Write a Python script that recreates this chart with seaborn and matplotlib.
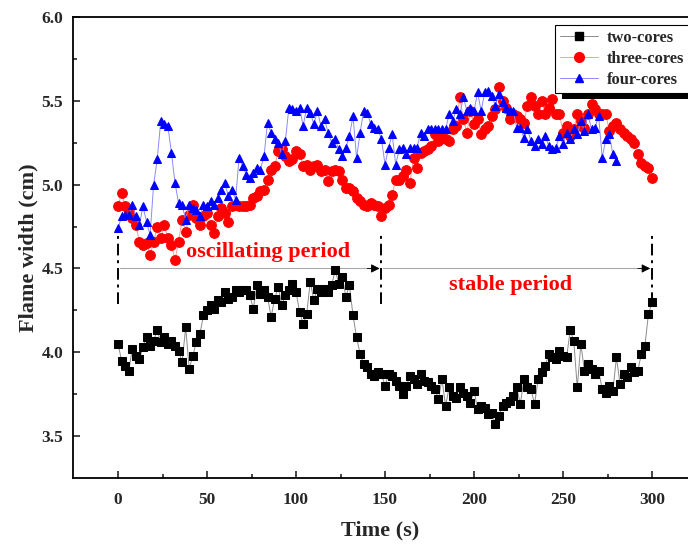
import numpy as np
import pandas as pd
import matplotlib
matplotlib.use("Agg")
import matplotlib.pyplot as plt
from matplotlib.lines import Line2D
from matplotlib.patches import Rectangle
import seaborn as sns

# ---------------- data ----------------
t_two = list(range(0, 301, 2))
two_cores = [4.05, 3.95, 3.92, 3.89, 4.02, 3.98, 3.96, 4.03, 4.09, 4.04,
             4.07, 4.13, 4.06, 4.09, 4.05, 4.07, 4.04, 4.01, 3.94, 4.15,
             3.90, 3.98, 4.06, 4.11, 4.22, 4.25, 4.28, 4.26, 4.31, 4.30,
             4.36, 4.32, 4.33, 4.37, 4.36, 4.37, 4.37, 4.34, 4.26, 4.40,
             4.35, 4.37, 4.33, 4.21, 4.32, 4.39, 4.28, 4.34, 4.37, 4.41,
             4.36, 4.24, 4.17, 4.23, 4.42, 4.31, 4.38, 4.36, 4.38, 4.36,
             4.40, 4.49, 4.41, 4.45, 4.33, 4.40, 4.22, 4.09, 3.99, 3.93,
             3.91, 3.87, 3.86, 3.88, 3.87, 3.80, 3.87, 3.86, 3.83, 3.80,
             3.75, 3.80, 3.86, 3.84, 3.81, 3.87, 3.83, 3.82, 3.80, 3.78,
             3.72, 3.84, 3.68, 3.79, 3.74, 3.73, 3.79, 3.76, 3.74, 3.70,
             3.77, 3.66, 3.68, 3.67, 3.63, 3.64, 3.57, 3.62, 3.68, 3.70,
             3.71, 3.74, 3.79, 3.69, 3.84, 3.79, 3.78, 3.69, 3.84, 3.88,
             3.92, 3.99, 3.97, 3.96, 4.01, 3.98, 3.97, 4.13, 4.07, 3.79,
             4.05, 3.89, 3.93, 3.90, 3.87, 3.89, 3.78, 3.76, 3.80, 3.77,
             3.97, 3.81, 3.87, 3.85, 3.91, 3.88, 3.89, 3.99, 4.04, 4.23,
             4.30]

t_three = list(range(0, 301, 2))
three_cores = [4.87, 4.95, 4.87, 4.84, 4.80, 4.76, 4.66, 4.64, 4.65, 4.58,
               4.66, 4.75, 4.68, 4.76, 4.68, 4.64, 4.55, 4.66, 4.79, 4.72,
               4.82, 4.88, 4.80, 4.76, 4.81, 4.83, 4.76, 4.71, 4.81, 4.86,
               4.83, 4.78, 4.87, 4.88, 4.87, 4.87, 4.87, 4.88, 4.92, 4.93,
               4.96, 4.97, 5.03, 5.09, 5.11, 5.20, 5.21, 5.17, 5.14, 5.15,
               5.20, 5.18, 5.11, 5.12, 5.09, 5.11, 5.12, 5.08, 5.09, 5.02,
               5.08, 5.09, 5.08, 5.03, 4.98, 4.98, 4.96, 4.92, 4.90, 4.88,
               4.87, 4.89, 4.88, 4.87, 4.81, 4.86, 4.88, 4.94, 5.03, 5.03,
               5.05, 5.09, 5.01, 5.16, 5.10, 5.19, 5.20, 5.21, 5.23, 5.30,
               5.26, 5.28, 5.27, 5.26, 5.33, 5.35, 5.52, 5.39, 5.31, 5.44,
               5.36, 5.39, 5.30, 5.33, 5.35, 5.41, 5.45, 5.58, 5.50, 5.46,
               5.39, 5.42, 5.41, 5.39, 5.37, 5.47, 5.52, 5.47, 5.42, 5.50,
               5.42, 5.46, 5.51, 5.42, 5.42, 5.31, 5.35, 5.29, 5.33, 5.42,
               5.38, 5.34, 5.42, 5.48, 5.45, 5.42, 5.42, 5.42, 5.32, 5.35,
               5.37, 5.33, 5.31, 5.29, 5.27, 5.25, 5.18, 5.13, 5.11, 5.10,
               5.04]

t_four = list(range(0, 281, 2))
four_cores = [4.74, 4.81, 4.82, 4.82, 4.88, 4.81, 4.76, 4.87, 4.78, 4.70,
              5.00, 5.15, 5.38, 5.36, 5.35, 5.19, 5.01, 4.89, 4.88, 4.79,
              4.88, 4.86, 4.85, 4.81, 4.88, 4.87, 4.90, 4.88, 4.92, 4.97,
              5.01, 4.93, 4.97, 4.91, 5.16, 5.11, 5.06, 5.04, 5.07, 5.10,
              5.09, 5.17, 5.37, 5.31, 5.27, 5.25, 5.18, 5.26, 5.46, 5.45,
              5.44, 5.46, 5.35, 5.46, 5.43, 5.36, 5.44, 5.35, 5.39, 5.31,
              5.25, 5.27, 5.21, 5.17, 5.22, 5.29, 5.41, 5.16, 5.31, 5.44,
              5.43, 5.36, 5.34, 5.33, 5.27, 5.12, 5.22, 5.30, 5.12, 5.21,
              5.22, 5.18, 5.22, 5.22, 5.22, 5.31, 5.29, 5.33, 5.33, 5.33,
              5.33, 5.33, 5.33, 5.42, 5.38, 5.45, 5.42, 5.52, 5.44, 5.46,
              5.44, 5.55, 5.44, 5.55, 5.56, 5.53, 5.47, 5.54, 5.49, 5.46,
              5.44, 5.44, 5.34, 5.34, 5.28, 5.33, 5.26, 5.23, 5.27, 5.24,
              5.29, 5.23, 5.21, 5.22, 5.29, 5.24, 5.31, 5.27, 5.33, 5.30,
              5.38, 5.32, 5.42, 5.33, 5.34, 5.41, 5.16, 5.27, 5.30, 5.18,
              5.14]

series_labels = ["two-cores", "three-cores", "four-cores"]
x_ticks = [0, 50, 100, 150, 200, 250, 300]
y_ticks = [3.5, 4.0, 4.5, 5.0, 5.5, 6.0]
period_bounds = [0, 148, 300]
period_labels = ["oscillating period", "stable period"]

# ---------------- style ----------------
sns.set_style("ticks")
plt.rcParams["font.family"] = ["Liberation Serif", "DejaVu Serif"]
plt.rcParams["font.weight"] = "bold"
plt.rcParams["axes.labelweight"] = "bold"

W, H = 688, 545
fig = plt.figure(figsize=(W / 100, H / 100), dpi=100)
ax = fig.add_axes([73 / W, 67 / H, (W - 73) / W, (478 - 17) / H])

df_two = pd.DataFrame({"t": t_two, "v": two_cores})
df_three = pd.DataFrame({"t": t_three, "v": three_cores})
df_four = pd.DataFrame({"t": t_four, "v": four_cores})

sns.lineplot(data=df_two, x="t", y="v", ax=ax, estimator=None, sort=False,
             color="#8c8c8c", lw=0.7, marker="s", ms=5.3,
             markerfacecolor="black", markeredgecolor="black", zorder=3)
sns.lineplot(data=df_three, x="t", y="v", ax=ax, estimator=None, sort=False,
             color="#ff9a9a", lw=0.7, marker="o", ms=7,
             markerfacecolor="red", markeredgecolor="red", zorder=3)
sns.lineplot(data=df_four, x="t", y="v", ax=ax, estimator=None, sort=False,
             color="#8a8aff", lw=0.7, marker="^", ms=6,
             markerfacecolor="blue", markeredgecolor="blue", zorder=4)

# axes
ax.set_xlim(-25.3, 320.2)
ax.set_ylim(3.25, 6.0)
ax.set_xticks(x_ticks)
ax.set_yticks(y_ticks)
ax.set_xticks([25, 75, 125, 175, 225, 275], minor=True)
ax.set_yticks([3.75, 4.25, 4.75, 5.25, 5.75], minor=True)
ax.set_yticklabels([f"{v:.1f}" for v in y_ticks])
ax.tick_params(axis="both", which="major", direction="in", length=5, width=1.2,
               labelsize=12.5, top=False, right=False)
ax.tick_params(axis="both", which="minor", direction="in", length=3, width=1.2,
               top=False, right=False)
ax.tick_params(axis="x", pad=10)
ax.tick_params(axis="y", pad=7)
for lab in ax.get_xticklabels() + ax.get_yticklabels():
    lab.set_fontweight("bold")
for s in ["left", "bottom", "top"]:
    ax.spines[s].set_linewidth(1.3)
    ax.spines[s].set_color("black")
ax.spines["right"].set_visible(False)
ax.set_xlabel("Time (s)", fontsize=16, fontweight="bold", labelpad=9)
ax.set_ylabel("Flame width (cm)", fontsize=16, fontweight="bold", labelpad=2)

# period annotations
for xb in period_bounds:
    ax.plot([xb, xb], [4.29, 4.70], color="black", lw=1.4,
            linestyle=(0, (6, 2.5, 1.5, 2.5)), zorder=5)
for a, b in zip(period_bounds[:-1], period_bounds[1:]):
    ax.plot([a + 1, b - 2], [4.5, 4.5], color="#a8a8a8", lw=0.8, zorder=2)
    ax.annotate("", xy=(b - 1, 4.5), xytext=(b - 8, 4.5),
                arrowprops=dict(arrowstyle="-|>", color="black", lw=0.6,
                                mutation_scale=13, shrinkA=0, shrinkB=0),
                zorder=5)
ax.text(84.5, 4.60, period_labels[0], color="red", fontsize=16,
        fontweight="bold", ha="center", va="center")
ax.text(220.5, 4.40, period_labels[1], color="red", fontsize=16,
        fontweight="bold", ha="center", va="center")

# legend
handles = [
    Line2D([], [], color="#8c8c8c", lw=0.7, marker="s", ms=5.3,
           markerfacecolor="black", markeredgecolor="black"),
    Line2D([], [], color="#ff9a9a", lw=0.7, marker="o", ms=7,
           markerfacecolor="red", markeredgecolor="red"),
    Line2D([], [], color="#8a8aff", lw=0.7, marker="^", ms=6,
           markerfacecolor="blue", markeredgecolor="blue"),
]
leg = ax.legend(handles, series_labels, loc="upper left",
                bbox_to_anchor=(555 / W, 1 - 25 / H),
                bbox_transform=fig.transFigure, frameon=True, fancybox=False,
                framealpha=1, edgecolor="black", borderaxespad=0,
                handlelength=2.3, labelspacing=0.3, borderpad=0.3,
                handletextpad=0.55, prop={"weight": "bold", "size": 11.8})
leg.get_frame().set_linewidth(0.8)

fig.canvas.draw()
bb = leg.get_window_extent()
fig.patches.append(Rectangle((bb.x0 + 7, bb.y0 - 6), W, 6,
                             transform=None, facecolor="black",
                             edgecolor="none", zorder=10))

fig.savefig("out.png", dpi=100)
